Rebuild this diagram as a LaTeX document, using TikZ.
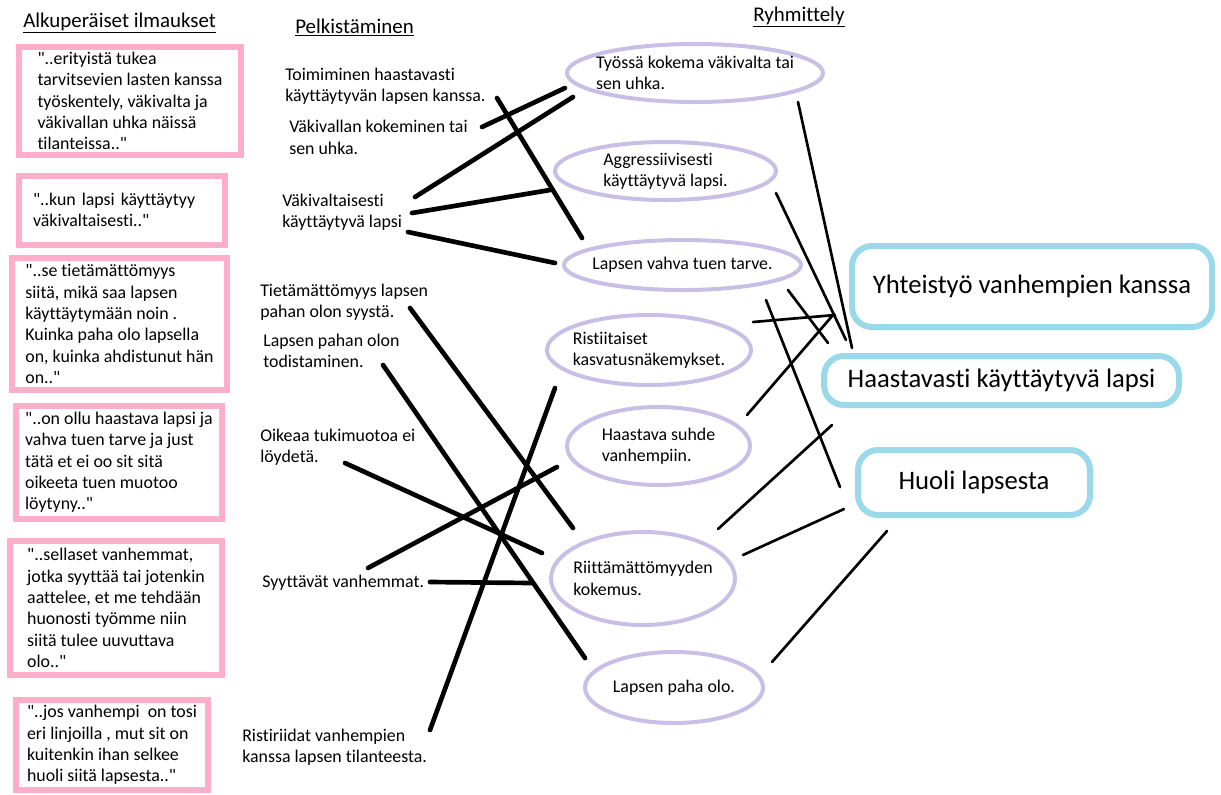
\documentclass[tikz,border=0pt]{standalone}
\usepackage{fontspec}
\setmainfont{Carlito}[Ligatures={NoCommon}]
\usepackage{tikz}
\usetikzlibrary{positioning}
\usetikzlibrary{shapes}
\usepackage{xcolor}
\definecolor{paintpink} {RGB} {255,174,201}
\definecolor{paintlilac} {RGB} {200,191,231}
\definecolor{paintblue} {RGB} {153,217,234}
\tikzstyle{Q} = [rectangle,draw=paintpink,line width=4.5pt,align=left,font=\fontsize{13.4}{16}\selectfont]
\tikzstyle{E} = [ellipse,draw=paintlilac,line width=3pt,align=left,inner xsep=-30pt,inner ysep=-8pt,font=\fontsize{13.4}{16}\selectfont]
\tikzstyle{G} = [rectangle,rounded corners=15pt,draw=paintblue,line width=4.5pt,font=\fontsize{20}{24}\selectfont]
\tikzstyle{T} = [align=left,inner sep=0pt,anchor=west,font=\fontsize{13.4}{16}\selectfont]
\tikzstyle{H} = [inner sep=0pt,anchor=base west,font=\fontsize{15.7}{19}\selectfont]
\tikzstyle{L} = [line width=3.5pt,line cap=round]
\tikzstyle{R} = [line width=2pt,line cap=round]

\begin{document}
\begin{tikzpicture}[x=0.75pt,y=-0.75pt]
  \useasboundingbox (0,0) rectangle (1221,794);

  \node [H] (h1) at (23,27) {\underline{Alkuperäiset ilmaukset}};
  \node [H] (h2) at (295,33) {\underline{Pelkistäminen}};
  \node [H] (h3) at (753,21) {\underline{Ryhmittely}};

  \node [Q,minimum width=166.5pt,minimum height=81pt] (q1) at (130,101)
    {\textquotedbl..erityistä tukea\\tarvitsevien lasten kanssa\\työskentely, väkivalta ja\\väkivallan uhka näissä\\tilanteissa..\textquotedbl};
  \node [Q,minimum width=154.5pt,minimum height=51.75pt,text width=133.5pt] (q2) at (122,210)
    {\textquotedbl..kun lapsi käyttäytyy\\väkivaltaisesti..\textquotedbl};
  \node [Q,minimum width=161.25pt,minimum height=99pt] (q3) at (119.5,324)
    {\textquotedbl..se tietämättömyys\\siitä, mikä saa lapsen\\käyttäytymään noin .\\Kuinka paha olo lapsella\\on, kuinka ahdistunut hän\\on..\textquotedbl};
  \node [Q,minimum width=154.5pt,minimum height=84.75pt] (q4) at (119,462.5)
    {\textquotedbl..on ollu haastava lapsi ja\\vahva tuen tarve ja just\\tätä et ei oo sit sitä\\oikeeta tuen muotoo\\löytyny..\textquotedbl};
  \node [Q,minimum width=159pt,minimum height=100.5pt] (q5) at (116,608)
    {\textquotedbl..sellaset vanhemmat,\\jotka syyttää tai jotenkin\\aattelee, et me tehdään\\huonosti työmme niin\\siitä tulee uuvuttava\\olo..\textquotedbl};
  \node [Q,minimum width=144pt,minimum height=67.5pt] (q6) at (112,745)
    {\textquotedbl..jos vanhempi\ \ on tosi\\eri linjoilla , mut sit on\\kuitenkin ihan selkee\\huoli siitä lapsesta..\textquotedbl};

  \node [T] (n1) at (285,86) {Toimiminen haastavasti\\käyttäytyvän lapsen kanssa.};
  \node [T] (n2) at (289,137.5) {Väkivallan kokeminen tai\\sen uhka.};
  \node [T] (n3) at (282,212.5) {Väkivaltaisesti\\käyttäytyvä lapsi};
  \node [T] (n4) at (260,302.5) {Tietämättömyys lapsen\\pahan olon syystä.};
  \node [T] (n5) at (263,351) {Lapsen pahan olon\\todistaminen.};
  \node [T] (n6) at (260,447.5) {Oikeaa tukimuotoa ei\\löydetä.};
  \node [T] (n7) at (262,583) {Syyttävät vanhemmat.};
  \node [T] (n8) at (242,747.5) {Ristiriidat vanhempien\\kanssa lapsen tilanteesta.};

  \node [E,minimum width=192pt,minimum height=43.5pt] (e1) at (695,73) {Työssä kokema väkivalta tai\\sen uhka.};
  \node [E,minimum width=165.75pt,minimum height=43.5pt] (e2) at (665.5,171) {Aggressiivisesti\\käyttäytyvä lapsi.};
  \node [E,minimum width=177.75pt,minimum height=37.5pt] (e3) at (682.5,265) {Lapsen vahva tuen tarve.};
  \node [E,minimum width=153pt,minimum height=52.5pt] (e4) at (649,350) {Ristiitaiset\\kasvatusnäkemykset.};
  \node [E,minimum width=137.25pt,minimum height=58.5pt] (e5) at (658.5,446) {Haastava suhde\\vanhempiin.};
  \node [E,minimum width=138pt,minimum height=69.75pt] (e6) at (643,578.5) {Riittämättömyyden\\kokemus.};
  \node [E,minimum width=133.5pt,minimum height=53.25pt] (e7) at (674,687.5) {Lapsen paha olo.};

  \node [G,minimum width=270pt,minimum height=60.75pt] (g1) at (1032,286.5) {Yhteistyö vanhempien kanssa};
  \node [G,minimum width=266.25pt,minimum height=36.75pt] (g2) at (1001.5,380.5) {Haastavasti käyttäytyvä lapsi};
  \node [G,minimum width=174pt,minimum height=48.75pt] (g3) at (974,482.5) {Huoli lapsesta};

  \coordinate (a1) at (482,127);  \coordinate (b1) at (565,88);
  \coordinate (a2) at (415,197);  \coordinate (b2) at (573,97);
  \coordinate (a3) at (497,98);   \coordinate (b3) at (582,238);
  \coordinate (a4) at (412,213);  \coordinate (b4) at (550,190);
  \coordinate (a5) at (408,232);  \coordinate (b5) at (555,263);
  \coordinate (a6) at (410,308);  \coordinate (b6) at (573,528);
  \coordinate (a7) at (383,365);  \coordinate (b7) at (585,658);
  \coordinate (a8) at (430,730);  \coordinate (b8) at (555,388);
  \coordinate (a9) at (345,463);  \coordinate (b9) at (542,553);
  \coordinate (a10) at (368,568); \coordinate (b10) at (557,467);
  \coordinate (a11) at (430,582); \coordinate (b11) at (532,583);

  \draw [L] (a1) -- (b1);
  \draw [L] (a2) -- (b2);
  \draw [L] (a3) -- (b3);
  \draw [L] (a4) -- (b4);
  \draw [L] (a5) -- (b5);
  \draw [L] (a6) -- (b6);
  \draw [L] (a7) -- (b7);
  \draw [L] (a8) -- (b8);
  \draw [L] (a9) -- (b9);
  \draw [L] (a10) -- (b10);
  \draw [L] (a11) -- (b11);

  \coordinate (a12) at (798,102); \coordinate (b12) at (852,348);
  \coordinate (a13) at (776,193); \coordinate (b13) at (846,340);
  \coordinate (a14) at (753,322); \coordinate (b14) at (835,315);
  \coordinate (a15) at (747,415); \coordinate (b15) at (833,315);
  \coordinate (a16) at (788,290); \coordinate (b16) at (828,343);
  \coordinate (a17) at (766,300); \coordinate (b17) at (840,487);
  \coordinate (a18) at (718,529); \coordinate (b18) at (832,425);
  \coordinate (a19) at (743,555); \coordinate (b19) at (844,509);
  \coordinate (a20) at (772,662); \coordinate (b20) at (887,531);

  \draw [R] (a12) -- (b12);
  \draw [R] (a13) -- (b13);
  \draw [R] (a14) -- (b14);
  \draw [R] (a15) -- (b15);
  \draw [R] (a16) -- (b16);
  \draw [R] (a17) -- (b17);
  \draw [R] (a18) -- (b18);
  \draw [R] (a19) -- (b19);
  \draw [R] (a20) -- (b20);

\end{tikzpicture}
\end{document}
